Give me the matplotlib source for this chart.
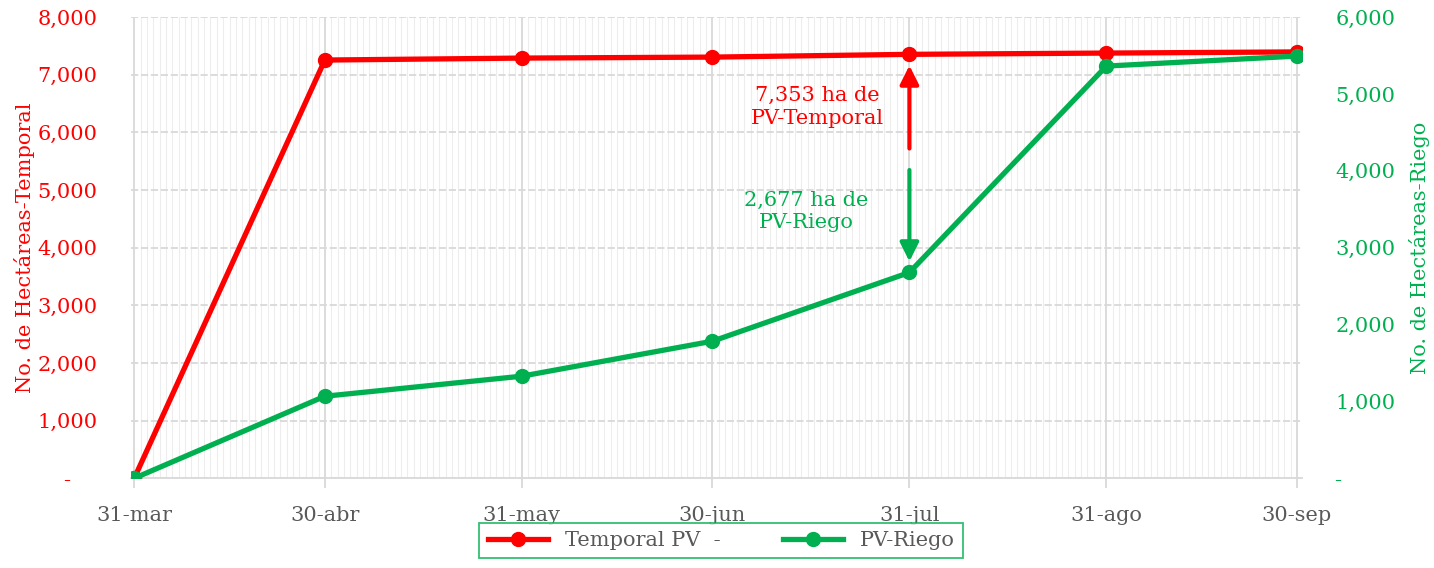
import numpy as np
import pandas as pd
import matplotlib
matplotlib.use("Agg")
import matplotlib.pyplot as plt
import matplotlib.dates as mdates
from matplotlib.ticker import FuncFormatter, MultipleLocator

plt.rcParams['font.family'] = ['DejaVu Serif']

RED = '#FF0000'
GREEN = '#00B050'
GREY = '#595959'
FS = 15

fechas = pd.to_datetime(['2023-03-31', '2023-04-30', '2023-05-31', '2023-06-30',
                         '2023-07-31', '2023-08-31', '2023-09-30'])
etiquetas = ['31-mar', '30-abr', '31-may', '30-jun', '31-jul', '31-ago', '30-sep']
temporal = [0, 7254, 7288, 7305, 7353, 7375, 7395]
riego = [0, 1067, 1328, 1783, 2677, 5362, 5492]


def miles(v, pos):
    if abs(v) < 0.5:
        return '-    '
    return f'{v:,.0f}'


fig = plt.figure(figsize=(14.34, 5.68), dpi=100)
ax = fig.add_axes([0.0914, 0.158, 0.8166, 0.812])
ax2 = ax.twinx()

x = mdates.date2num(fechas)
ax.plot(x, temporal, '-o', color=RED, lw=3.8, ms=10, label='Temporal PV  -', zorder=5)
ax2.plot(x, riego, '-o', color=GREEN, lw=3.8, ms=10, label='PV-Riego', zorder=5)

ax.set_xlim(x[0] - 0.5, x[-1] + 0.8)
ax.set_ylim(0, 8000)
ax2.set_ylim(0, 6000)

# rejilla
ax.xaxis.set_major_locator(matplotlib.ticker.FixedLocator(x))
ax.xaxis.set_major_formatter(matplotlib.ticker.FixedFormatter(etiquetas))
ax.xaxis.set_minor_locator(mdates.DayLocator())
ax.yaxis.set_major_locator(MultipleLocator(1000))
ax2.yaxis.set_major_locator(MultipleLocator(1000))
ax.yaxis.set_major_formatter(FuncFormatter(miles))
ax2.yaxis.set_major_formatter(FuncFormatter(miles))

ax.grid(axis='x', which='minor', color='#EDEDED', lw=0.75)
ax.grid(axis='x', which='major', color='#D9D9D9', lw=1.3)
ax.grid(axis='y', which='major', color='#D9D9D9', lw=1.3, linestyle=(0, (4, 1.5)))
ax.set_axisbelow(True)

for a in (ax, ax2):
    for s in a.spines.values():
        s.set_visible(False)
ax.spines['bottom'].set_visible(True)
ax.spines['bottom'].set_color('#D9D9D9')
ax.spines['bottom'].set_linewidth(1.3)

ax.tick_params(axis='x', which='major', length=7, width=1.3, color='#D9D9D9',
               labelcolor=GREY, labelsize=FS, pad=13)
ax.tick_params(axis='x', which='minor', length=0)
ax.tick_params(axis='y', length=0, labelcolor=RED, labelsize=FS, pad=24)
ax2.tick_params(axis='y', length=0, labelcolor=GREEN, labelsize=FS, pad=24)

ax.set_ylabel('No. de Hectáreas-Temporal', color=RED, fontsize=FS, labelpad=2)
ax2.set_ylabel('No. de Hectáreas-Riego', color=GREEN, fontsize=FS, labelpad=10,
               rotation=90)

# anotaciones
x_jul = x[4]
ax.annotate('', xy=(x_jul, 7160), xytext=(x_jul, 5720),
            arrowprops=dict(arrowstyle='-|>', color=RED, lw=3, mutation_scale=28,
                            shrinkA=0, shrinkB=0), zorder=6)
ax.text(x_jul - 14.5, 6440, '7,353 ha de\nPV-Temporal', color=RED, fontsize=FS,
        ha='center', va='center', linespacing=1.25)
ax2.annotate('', xy=(x_jul, 2820), xytext=(x_jul, 4010),
             arrowprops=dict(arrowstyle='-|>', color=GREEN, lw=3, mutation_scale=28,
                             shrinkA=0, shrinkB=0), zorder=6)
ax2.text(x_jul - 16.3, 3470, '2,677 ha de\nPV-Riego', color=GREEN, fontsize=FS,
         ha='center', va='center', linespacing=1.25)

h1, l1 = ax.get_legend_handles_labels()
h2, l2 = ax2.get_legend_handles_labels()
leg = fig.legend(h1 + h2, l1 + l2, loc='upper center', bbox_to_anchor=(0.503, 0.098),
                 ncol=2, frameon=True, fancybox=False, fontsize=FS,
                 handlelength=2.9, columnspacing=3.0, borderpad=0.4,
                 labelcolor=GREY)
leg.get_frame().set_edgecolor(GREEN)
leg.get_frame().set_linewidth(1.3)

fig.savefig('out.png', dpi=100)
